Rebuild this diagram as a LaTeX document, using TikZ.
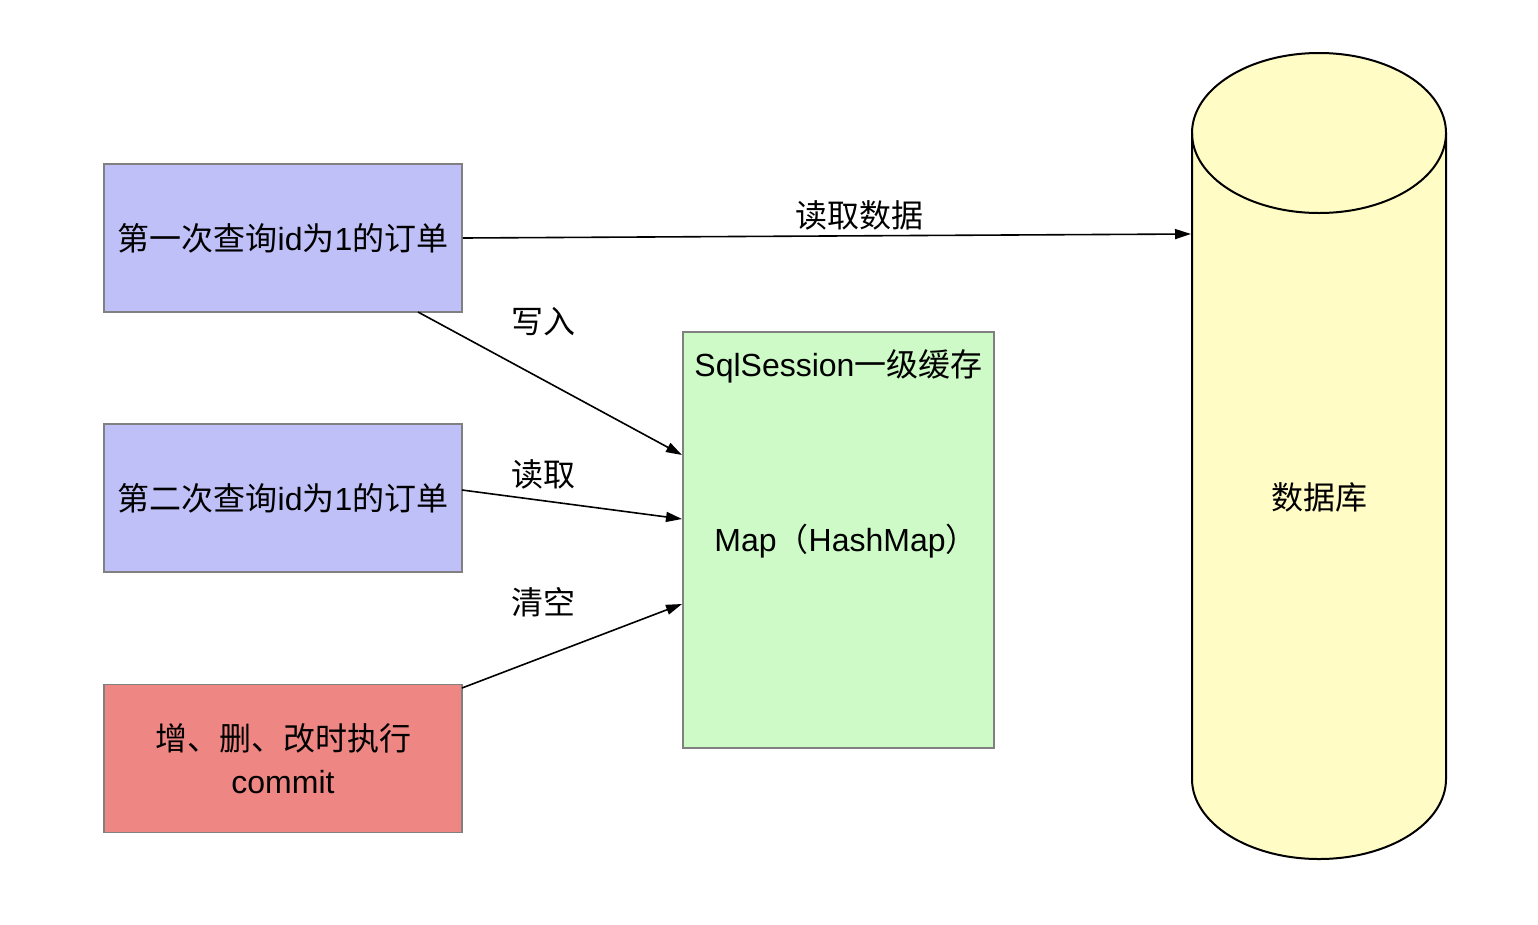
\documentclass[tikz,border=0pt]{standalone}
\usepackage{fontspec}
\setmainfont{Noto Sans CJK SC}
\newfontfamily\lat{Liberation Sans}
\usetikzlibrary{arrows.meta}
\definecolor{lav}{HTML}{C0C0F8}
\definecolor{grn}{HTML}{CDFAC6}
\definecolor{ylw}{HTML}{FFFCC6}
\definecolor{rd}{HTML}{EE8784}
\definecolor{bd}{HTML}{808080}
\tikzset{
  box/.style={draw=bd, line width=1.6pt, minimum width=358pt, minimum height=148pt, inner sep=0pt, align=center, font=\fontsize{32}{43}\selectfont},
  conn/.style={line width=1.6pt, -{Triangle[length=16pt,width=10pt]}},
  lbl/.style={font=\fontsize{32}{36}\selectfont, inner sep=0pt},
}
\begin{document}
\begin{tikzpicture}[x=1pt,y=-1pt]
\useasboundingbox (0,0) rectangle (1538,924);
% boxes
\node[box, fill=lav] (q1) at (283,238) {第一次查询{\lat id}为{\lat 1}的订单};
\node[box, fill=lav] (q2) at (283,498) {第二次查询{\lat id}为{\lat 1}的订单};
\node[box, fill=rd] (cm) at (283,758.5) {增、删、改时执行\\{\lat commit}};
% cache
\node[draw=bd, line width=1.6pt, fill=grn, minimum width=311pt, minimum height=416pt, inner sep=0pt] (cache) at (838.5,540) {};
\node[lbl] (t1) at (838.5,366) {{\lat SqlSession}一级缓存};
\node[lbl] (t2) at (846,541) {{\lat Map}（{\lat HashMap}）};
% cylinder
\fill[ylw] (1192,133) -- (1192,779) arc[start angle=180,end angle=0,x radius=127,y radius=80] -- (1446,133) -- cycle;
\draw[line width=2pt, fill=ylw] (1319,133) ellipse[x radius=127, y radius=80];
\draw[line width=2pt] (1192,133) -- (1192,779) arc[start angle=180,end angle=0,x radius=127,y radius=80] -- (1446,133);
\node[lbl] (db) at (1319,497) {数据库};
\coordinate (dbin) at (1191,234);
\coordinate (c1) at (682,455);
\coordinate (c2) at (682,519);
\coordinate (c3) at (682,604);
\coordinate (s1) at (418,312);
\coordinate (s2) at (462,490);
\coordinate (s3) at (462,688);
% connectors
\draw[conn] (q1.east) -- (dbin) node[lbl, pos=0.545, above=5pt] {读取数据};
\draw[conn] (s1) -- (c1);
\node[lbl] at (543,322) {写入};
\draw[conn] (s2) -- (c2);
\node[lbl] at (543,474) {读取};
\draw[conn] (s3) -- (c3);
\node[lbl] at (543,602) {清空};
\end{tikzpicture}
\end{document}
